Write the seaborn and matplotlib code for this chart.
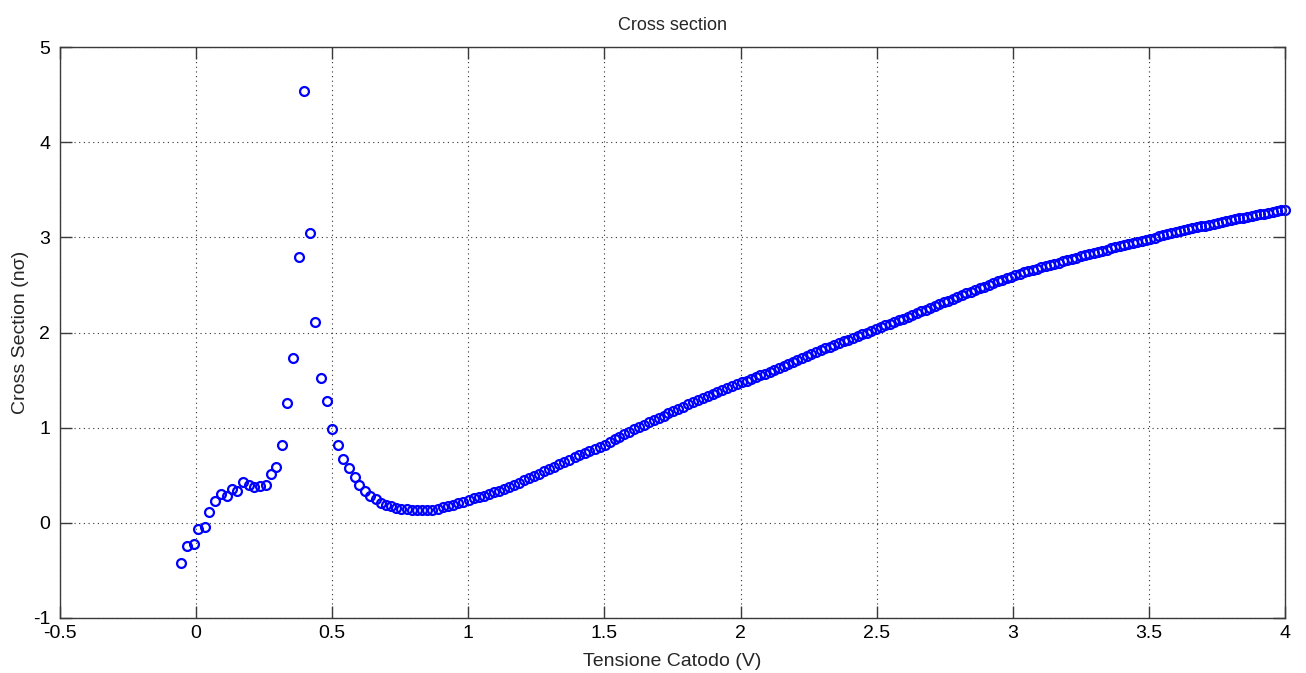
import matplotlib
matplotlib.use("Agg")
import matplotlib.pyplot as plt
import seaborn as sns
import pandas as pd

# Cathode voltage (V) and measured cross section (n*sigma)
voltage = [
    -0.054, -0.032, -0.008, 0.008, 0.033, 0.049, 0.071, 0.092, 0.114, 0.132,
    0.151, 0.174, 0.194, 0.214, 0.234, 0.255, 0.276, 0.295, 0.316, 0.335,
    0.355, 0.377, 0.398, 0.419, 0.436, 0.457, 0.479, 0.500, 0.522, 0.538,
    0.560, 0.582, 0.600, 0.620, 0.640, 0.659,
    0.678, 0.697, 0.716, 0.735, 0.754, 0.773, 0.792, 0.811, 0.830, 0.849,
    0.868, 0.887, 0.906, 0.925, 0.944, 0.963, 0.982, 1.001,
    1.020, 1.038, 1.057, 1.075, 1.094, 1.112, 1.131, 1.149, 1.168, 1.186,
    1.205, 1.223, 1.242, 1.260, 1.279, 1.297, 1.316, 1.334, 1.353, 1.371,
    1.390, 1.408, 1.427, 1.445, 1.464, 1.482, 1.501,
    1.519, 1.537, 1.555, 1.573, 1.591, 1.609, 1.627, 1.645, 1.663, 1.681,
    1.699, 1.717, 1.735, 1.753, 1.771, 1.789, 1.807, 1.825, 1.843, 1.861,
    1.879, 1.897, 1.915, 1.933, 1.951, 1.969, 1.987, 2.005,
    2.022, 2.039, 2.056, 2.073, 2.090, 2.107, 2.124, 2.141, 2.158, 2.175,
    2.192, 2.209, 2.226, 2.243, 2.260, 2.277, 2.294, 2.311, 2.328, 2.345,
    2.362, 2.379, 2.396, 2.413, 2.430, 2.447, 2.464, 2.481, 2.498,
    2.515, 2.531, 2.548, 2.564, 2.581, 2.597, 2.614, 2.630, 2.647, 2.663,
    2.680, 2.696, 2.713, 2.729, 2.746, 2.762, 2.779, 2.795, 2.812, 2.828,
    2.845, 2.861, 2.878, 2.894, 2.911, 2.927, 2.944, 2.960, 2.977, 2.993,
    3.009, 3.025, 3.041, 3.057, 3.073, 3.089, 3.105, 3.121, 3.137, 3.153,
    3.169, 3.185, 3.201, 3.217, 3.233, 3.249, 3.265, 3.281, 3.297, 3.313,
    3.329, 3.345, 3.361, 3.377, 3.393, 3.409, 3.425, 3.441, 3.457, 3.473,
    3.489, 3.505,
    3.521, 3.536, 3.552, 3.567, 3.583, 3.598, 3.614, 3.629, 3.645, 3.660,
    3.676, 3.691, 3.707, 3.722, 3.738, 3.753, 3.769, 3.784, 3.800, 3.815,
    3.831, 3.846, 3.862, 3.877, 3.893, 3.908, 3.924, 3.939, 3.955, 3.970,
    3.986, 4.000,
]

cross_section = [
    -0.417, -0.240, -0.224, -0.060, -0.045, 0.115, 0.230, 0.300, 0.280, 0.357,
    0.330, 0.430, 0.400, 0.380, 0.385, 0.400, 0.515, 0.590, 0.816, 1.257,
    1.730, 2.790, 4.540, 3.050, 2.110, 1.526, 1.285, 0.984, 0.816, 0.675,
    0.578, 0.483, 0.396, 0.330, 0.287, 0.250,
    0.210, 0.190, 0.172, 0.160, 0.150, 0.143, 0.137, 0.134, 0.132, 0.133,
    0.140, 0.150, 0.163, 0.177, 0.190, 0.206, 0.222, 0.240,
    0.256, 0.270, 0.286, 0.302, 0.319, 0.337, 0.358, 0.379, 0.402, 0.423,
    0.446, 0.470, 0.495, 0.518, 0.542, 0.566, 0.591, 0.614, 0.639, 0.663,
    0.687, 0.710, 0.733, 0.754, 0.777, 0.798, 0.821,
    0.849, 0.876, 0.903, 0.930, 0.956, 0.983, 1.008, 1.033, 1.057, 1.080,
    1.104, 1.127, 1.150, 1.174, 1.197, 1.221, 1.244, 1.265, 1.287, 1.308,
    1.330, 1.351, 1.373, 1.395, 1.416, 1.436, 1.456, 1.475,
    1.494, 1.513, 1.531, 1.550, 1.569, 1.588, 1.609, 1.629, 1.650, 1.670,
    1.690, 1.711, 1.731, 1.752, 1.772, 1.792, 1.813, 1.832, 1.851, 1.870,
    1.888, 1.907, 1.926, 1.944, 1.963, 1.982, 2.000, 2.019, 2.038,
    2.056, 2.074, 2.093, 2.110, 2.129, 2.147, 2.165, 2.183, 2.202, 2.221,
    2.241, 2.260, 2.279, 2.297, 2.316, 2.334, 2.355, 2.374, 2.393, 2.410,
    2.429, 2.447, 2.466, 2.483, 2.502, 2.520, 2.538, 2.555, 2.573, 2.588,
    2.603, 2.618, 2.632, 2.646, 2.659, 2.671, 2.684, 2.697, 2.710, 2.722,
    2.735, 2.748, 2.761, 2.774, 2.786, 2.799, 2.812, 2.825, 2.838, 2.849,
    2.860, 2.872, 2.883, 2.894, 2.905, 2.916, 2.928, 2.939, 2.950, 2.961,
    2.972, 2.984,
    2.997, 3.009, 3.021, 3.032, 3.043, 3.054, 3.065, 3.075, 3.086, 3.096,
    3.106, 3.115, 3.124, 3.133, 3.143, 3.152, 3.161, 3.170, 3.180, 3.189,
    3.198, 3.207, 3.216, 3.224, 3.232, 3.240, 3.248, 3.255, 3.263, 3.273,
    3.282, 3.290,
]

x_ticks = [-0.5, 0, 0.5, 1, 1.5, 2, 2.5, 3, 3.5, 4]
x_tick_labels = ["-0.5", "0", "0.5", "1", "1.5", "2", "2.5", "3", "3.5", "4"]
y_ticks = [-1, 0, 1, 2, 3, 4, 5]
y_tick_labels = ["-1", "0", "1", "2", "3", "4", "5"]

df = pd.DataFrame({"V": voltage, "ns": cross_section})

sns.set_style("white")
plt.rcParams["font.family"] = ["Liberation Sans", "DejaVu Sans"]

fig = plt.figure(figsize=(13.06, 6.73), dpi=100)
ax = fig.add_axes([60 / 1306, 55 / 673, 1225 / 1306, 571 / 673])

sns.lineplot(
    data=df, x="V", y="ns", ax=ax, sort=False, estimator=None,
    linestyle="none", marker="o", markersize=6.4,
    markerfacecolor="none", markeredgecolor="#0000ff",
    markeredgewidth=1.6, color="#0000ff", clip_on=False,
)

ax.set_xlim(-0.5, 4)
ax.set_ylim(-1, 5)
ax.set_xticks(x_ticks)
ax.set_xticklabels(x_tick_labels)
ax.set_yticks(y_ticks)
ax.set_yticklabels(y_tick_labels)

ax.grid(True, linestyle=(0, (1, 3.2)), linewidth=0.8, color="#333333")
ax.set_axisbelow(True)

for side in ["left", "right", "top", "bottom"]:
    ax.spines[side].set_visible(True)
    ax.spines[side].set_color("#3a3a3a")
    ax.spines[side].set_linewidth(1.0)

ax.tick_params(axis="both", which="major", direction="in", length=8.5,
               width=1.0, color="#3a3a3a", labelsize=14, labelcolor="black",
               top=True, right=True, bottom=True, left=True)
ax.tick_params(axis="x", pad=5)
ax.tick_params(axis="y", pad=7)

ax.set_title("Cross section", fontsize=13, pad=12)
ax.set_xlabel("Tensione Catodo (V)", fontsize=14, labelpad=8)
ax.set_ylabel("Cross Section (n\u03c3)", fontsize=14, labelpad=3)

fig.savefig("out.png", dpi=100, facecolor="white")
